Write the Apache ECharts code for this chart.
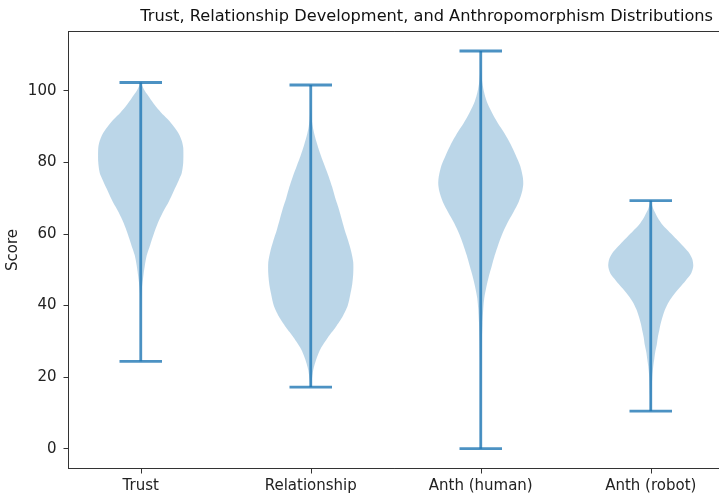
<!DOCTYPE html>
<html>
<head>
<meta charset="utf-8">
<script src="https://cdn.jsdelivr.net/npm/echarts@6/dist/echarts.min.js"></script>
<style>
html,body{margin:0;padding:0;background:#fff;}
#chart{width:719px;height:499px;}
</style>
</head>
<body>
<div id="chart"></div>
<script>
const title = 'Trust, Relationship Development, and Anthropomorphism Distributions';
const categories = ['Trust', 'Relationship', 'Anth (human)', 'Anth (robot)'];
const yTicks = [0, 20, 40, 60, 80, 100];
const mins = [24.4, 17.2, 0, 10.5];
const maxs = [102.3, 101.6, 111.1, 69.3];

// density profiles (score level, relative density)
const trustY = [102.3, 100, 98, 96, 94, 92, 90, 88, 86, 84, 80, 77, 75, 72, 69, 66, 63, 60, 57, 54, 51, 48, 45, 42, 38, 30, 24.4];
const trustD = [0, 4, 9, 14, 20, 27, 33, 38, 41, 42.5, 42.5, 41, 38, 33, 28, 22, 17, 13, 9.5, 6, 4, 2.5, 1.2, 0.5, 0.2, 0.1, 0];
const relY = [101.6, 96, 92, 90, 88, 85, 82, 79, 76, 73, 70, 67, 64, 61, 58, 55, 52, 49, 46, 43, 40, 37, 34, 31, 28, 25, 22, 19, 17.2];
const relD = [0, 0.3, 1, 2, 3.5, 6.5, 10, 14, 18, 21.5, 24.5, 28, 31, 34, 37.5, 40.5, 42.5, 42.5, 41.5, 39.5, 37, 32, 25, 17, 10, 5.5, 2.5, 1, 0.5];
const humY = [111.1, 106, 103, 100, 97, 94, 91, 88, 85, 82, 79, 76, 74, 72, 69, 66, 63, 60, 57, 54, 51, 48, 45, 42, 39, 35, 30, 24, 15, 0];
const humD = [0, 0.5, 1.2, 3, 6, 11, 17, 24, 30, 35, 39.5, 42, 42.5, 41.5, 38, 32.5, 26.5, 21.5, 17.5, 14, 11, 8, 5.5, 3.5, 2.5, 1.7, 1.1, 0.7, 0.4, 0.2];
const robY = [69.3, 67, 65, 63, 61, 59, 57, 55, 53, 51, 49, 47, 45, 43, 41, 39, 37, 35, 33, 31, 29, 27, 25, 23, 20, 15, 10.5];
const robD = [0, 2.5, 6, 10.5, 17, 24, 31, 37.5, 41.5, 42.5, 40.5, 35, 29, 23, 18, 14.5, 12, 10, 8.5, 7, 6, 4.5, 3.5, 2.5, 1.5, 0.8, 0.5];

const profiles = [[trustY, trustD], [relY, relD], [humY, humD], [robY, robD]];

const FONT = "'DejaVu Sans', sans-serif";
const fillColor = 'rgba(31,119,180,0.3)';
const lineColor = 'rgba(31,119,180,0.8)';
const halfWidth = 0.25;   // max half width of violin in axis units
const capHalf = 0.125;

function renderViolin(params, api) {
  const i = params.dataIndex;
  const pos = api.value(0);
  const ys = profiles[i][0], ds = profiles[i][1];
  const dmax = Math.max.apply(null, ds);
  const right = [], left = [];
  for (let k = 0; k < ys.length; k++) {
    const w = halfWidth * ds[k] / dmax;
    right.push(api.coord([pos + w, ys[k]]));
    left.push(api.coord([pos - w, ys[k]]));
  }
  const pts = right.concat(left.reverse());
  const top = api.coord([pos, maxs[i]]);
  const bot = api.coord([pos, mins[i]]);
  const capL1 = api.coord([pos - capHalf, maxs[i]]);
  const capR1 = api.coord([pos + capHalf, maxs[i]]);
  const capL2 = api.coord([pos - capHalf, mins[i]]);
  const capR2 = api.coord([pos + capHalf, mins[i]]);
  const ls = {stroke: lineColor, lineWidth: 2.8, fill: null};
  return {
    type: 'group',
    children: [
      {type: 'polygon', shape: {points: pts, smooth: 0.25}, style: {fill: fillColor, stroke: null}},
      {type: 'line', shape: {x1: top[0], y1: top[1], x2: bot[0], y2: bot[1]}, style: ls},
      {type: 'line', shape: {x1: capL1[0], y1: capL1[1], x2: capR1[0], y2: capR1[1]}, style: ls},
      {type: 'line', shape: {x1: capL2[0], y1: capL2[1], x2: capR2[0], y2: capR2[1]}, style: ls}
    ]
  };
}

const chart = echarts.init(document.getElementById('chart'), null, {renderer: 'canvas'});
chart.setOption({
  animation: false,
  backgroundColor: '#fff',
  title: {
    text: title, right: 1, top: 4,
    textStyle: {fontFamily: FONT, fontSize: 16.2, fontWeight: 'normal', color: '#111'}
  },
  grid: {left: 68.5, top: 31.5, width: 654.5, height: 437, containLabel: false, outerBoundsMode: 'none'},
  xAxis: [{
    type: 'value', min: 0.575, max: 4.425,
    splitLine: {show: false},
    axisLine: {onZero: false, lineStyle: {color: '#333', width: 1}},
    axisTick: {customValues: [1, 2, 3, 4], length: 5, lineStyle: {color: '#333'}},
    axisLabel: {
      customValues: [1, 2, 3, 4], margin: 10,
      formatter: v => categories[Math.round(v) - 1] || '',
      fontFamily: FONT, fontSize: 15, color: '#222'
    }
  }, {
    type: 'value', position: 'top', min: 0.575, max: 4.425,
    axisLine: {show: true, onZero: false, lineStyle: {color: '#333'}},
    axisTick: {show: false}, axisLabel: {show: false}, splitLine: {show: false}
  }],
  yAxis: {
    type: 'value', min: -5.55, max: 116.55,
    name: 'Score', nameLocation: 'middle', nameGap: 48, nameRotate: 90, nameMoveOverlap: false,
    nameTextStyle: {fontFamily: FONT, fontSize: 15, color: '#222'},
    splitLine: {show: false},
    axisLine: {show: true, onZero: false, lineStyle: {color: '#333', width: 1}},
    axisTick: {show: true, customValues: yTicks, length: 5, lineStyle: {color: '#333'}},
    axisLabel: {customValues: yTicks, margin: 12, fontFamily: FONT, fontSize: 15, color: '#222'}
  },
  series: [{
    type: 'custom',
    renderItem: renderViolin,
    data: categories.map((c, i) => [i + 1]),
    encode: {x: 0},
    clip: false
  }]
});
</script>
</body>
</html>
